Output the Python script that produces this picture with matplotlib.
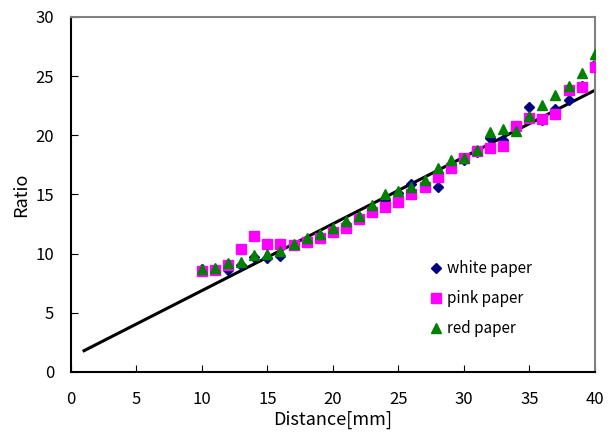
import numpy as np
import matplotlib.pyplot as plt

plt.rcParams['font.family'] = ['Noto Sans CJK JP', 'DejaVu Sans']

distance = list(range(10, 41))
white = [8.7, 8.6, 8.6, 9.0, 9.7, 9.6, 9.8, 10.7, 11.1, 11.5, 11.9, 12.5, 13.1, 13.6, 14.5, 15.1,
         15.9, 15.9, 15.6, 17.5, 17.9, 18.6, 19.8, 19.6, 20.6, 22.4, 21.3, 22.2, 23.0, 24.2, 26.0]
pink = [8.5, 8.6, 9.0, 10.4, 11.5, 10.8, 10.8, 10.7, 11.0, 11.3, 11.8, 12.2, 12.9, 13.5, 13.9, 14.4,
        15.0, 15.6, 16.5, 17.2, 18.1, 18.7, 18.9, 19.1, 20.8, 21.5, 21.4, 21.8, 23.8, 24.1, 25.8]
red = [8.7, 8.8, 9.2, 9.3, 9.9, 10.0, 10.2, 10.8, 11.3, 11.7, 12.2, 12.8, 13.2, 14.1, 15.0, 15.3,
       15.6, 16.2, 17.2, 17.9, 18.1, 18.8, 20.3, 20.5, 20.4, 21.6, 22.6, 23.4, 24.2, 25.3, 26.9]

# fitted line end points
fit_x = [1, 40]
fit_y = [1.8, 23.8]

fig = plt.figure(figsize=(6.14, 4.41), dpi=100)
ax = fig.add_axes([0.1156, 0.1565, 0.853, 0.805])

ax.plot(fit_x, fit_y, color='black', lw=2.2, zorder=1)
ax.plot(distance, white, 'D', color='#000080', ms=5.5, label='white paper', zorder=2)
ax.plot(distance, pink, 's', color='#ff00ff', ms=7, label='pink paper', zorder=3)
ax.plot(distance, red, '^', color='#008000', ms=7.5, label='red paper', zorder=4)

ax.set_xlim(0, 40)
ax.set_ylim(0, 30)
ax.set_xticks(range(0, 41, 5))
ax.set_yticks(range(0, 31, 5))
ax.tick_params(direction='in', length=5, labelsize=12, top=False, right=False)
ax.tick_params(axis='x', pad=14)
ax.tick_params(axis='y', pad=12)
for s in ['left', 'bottom']:
    ax.spines[s].set_color('black')
    ax.spines[s].set_linewidth(1.5)
for s in ['top', 'right']:
    ax.spines[s].set_color('gray')
    ax.spines[s].set_linewidth(1.5)

ax.set_xlabel('Distance[mm]', fontsize=13, labelpad=2)
ax.set_ylabel('Ratio', fontsize=13, labelpad=4)

ax.legend(loc='center left', bbox_to_anchor=(0.68, 0.206), frameon=False, fontsize=11,
          handletextpad=0.1, handlelength=1.2, labelspacing=0.85, borderpad=0, borderaxespad=0)

fig.savefig('out.png', dpi=100)
